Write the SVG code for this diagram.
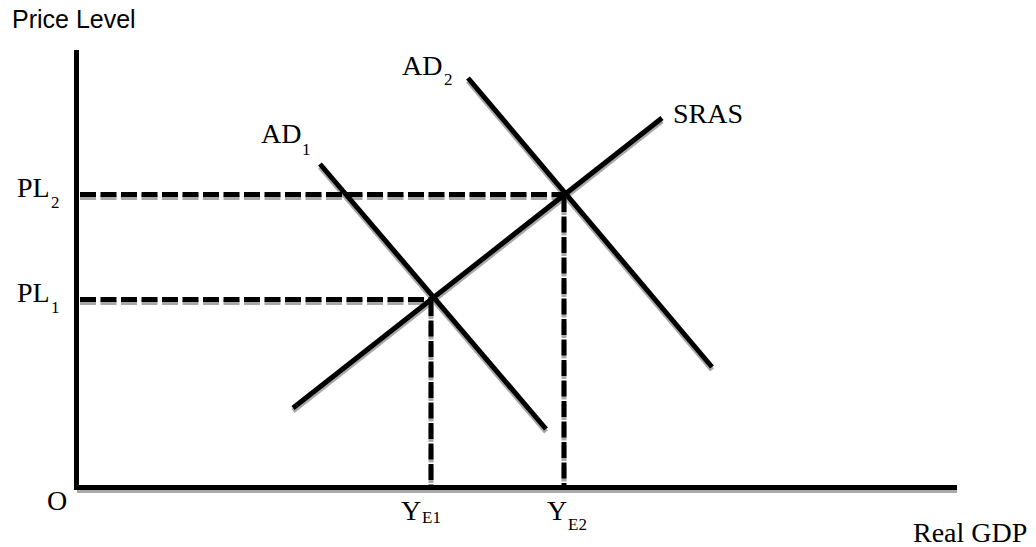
<svg xmlns="http://www.w3.org/2000/svg" width="1036" height="547" viewBox="0 0 1036 547">
<style>
.ln{stroke:#000;stroke-width:5;fill:none;stroke-linecap:butt}
.sh{stroke:#a8a8a8;stroke-width:5;fill:none}
.dash{stroke-dasharray:16 4.5}
.t{font-family:"Liberation Serif","Times New Roman",serif;font-size:28px;fill:#000}
.s{font-family:"Liberation Serif","Times New Roman",serif;font-size:17px;fill:#000}
.a{font-family:"Liberation Sans",Arial,sans-serif;font-size:25px;fill:#000}
</style>
<rect width="1036" height="547" fill="#fff"/>
<g id="connectors">
  <!-- shadows -->
  <g transform="translate(0,3)">
    <line class="sh" x1="77" y1="487.5" x2="957" y2="487.5"/>
    <line class="sh dash" x1="80" y1="194.5" x2="564" y2="194.5"/>
    <line class="sh dash" x1="80" y1="299.5" x2="431" y2="299.5"/>
    <line class="sh dash" x1="431" y1="300" x2="431" y2="487"/>
    <line class="sh dash" x1="564" y1="196" x2="564" y2="487"/>
    <line class="sh" x1="293" y1="408" x2="662" y2="118"/>
    <line class="sh" x1="320" y1="164" x2="546" y2="429"/>
    <line class="sh" x1="468" y1="78" x2="712" y2="367"/>
  </g>
  <!-- axes -->
  <line class="ln" x1="76.5" y1="50" x2="76.5" y2="490"/>
  <line class="ln" x1="74" y1="487.5" x2="957" y2="487.5"/>
  <!-- guides -->
  <line class="ln dash" x1="80" y1="194.5" x2="564" y2="194.5"/>
  <line class="ln dash" x1="80" y1="299.5" x2="431" y2="299.5"/>
  <line class="ln dash" x1="431" y1="300" x2="431" y2="487"/>
  <line class="ln dash" x1="564" y1="196" x2="564" y2="487"/>
  <!-- curves -->
  <line id="sras" class="ln" x1="293" y1="408" x2="662" y2="118"/>
  <line id="ad1" class="ln" x1="320" y1="164" x2="546" y2="429"/>
  <line id="ad2" class="ln" x1="468" y1="78" x2="712" y2="367"/>
</g>
<g id="label-price-level"><text class="a" x="12" y="28">Price Level</text></g>
<g id="label-real-gdp"><text class="t" x="913" y="542">Real GDP</text></g>
<g id="label-origin"><text class="t" x="47" y="510">O</text></g>
<g id="label-pl2"><text class="t" x="17" y="197">PL</text><text class="s" x="51" y="208">2</text></g>
<g id="label-pl1"><text class="t" x="17" y="302">PL</text><text class="s" x="51" y="313">1</text></g>
<g id="label-ye1"><text class="t" x="401" y="520">Y</text><text class="s" x="422" y="523">E1</text></g>
<g id="label-ye2"><text class="t" x="547" y="520">Y</text><text class="s" x="568" y="530">E2</text></g>
<g id="label-ad1"><text class="t" x="261" y="143">AD</text><text class="s" x="302" y="155">1</text></g>
<g id="label-ad2"><text class="t" x="402" y="75">AD</text><text class="s" x="444" y="85">2</text></g>
<g id="label-sras"><text class="t" x="673" y="123">SRAS</text></g>
</svg>
